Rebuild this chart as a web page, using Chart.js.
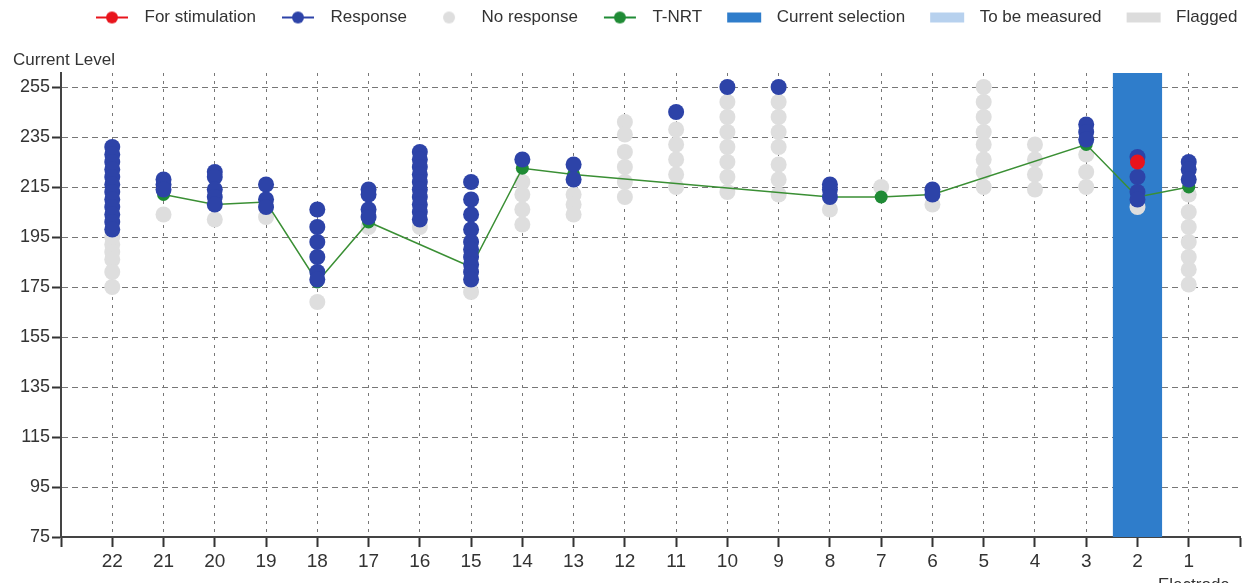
<!DOCTYPE html>
<html>
<head>
<meta charset="utf-8">
<script src="https://cdn.jsdelivr.net/npm/chart.js@4.4.1/dist/chart.umd.min.js"></script>
<style>
  html, body { margin: 0; padding: 0; background: #fff; overflow: hidden; }
  #wrap { width: 1255px; height: 583px; }
</style>
</head>
<body>
<div id="wrap"><canvas id="nrtChart"></canvas></div>
<script>
// Electrodes, left to right
const electrodes = [22, 21, 20, 19, 18, 17, 16, 15, 14, 13, 12, 11, 10, 9, 8, 7, 6, 5, 4, 3, 2, 1];

const responseLevels = [
    [231, 228, 225, 222, 219, 216, 213, 210, 207, 204, 201, 198], // 22
    [218, 216, 214],                                              // 21
    [221, 219, 214, 211, 208],                                    // 20
    [216, 210, 207],                                              // 19
    [206, 199, 193, 187, 181, 178],                               // 18
    [214, 212, 206, 203],                                         // 17
    [229, 226, 223, 220, 217, 214, 211, 208, 205, 202],           // 16
    [217, 210, 204, 198, 193, 190, 187, 184, 181, 178],           // 15
    [226],                                                        // 14
    [224, 218],                                                   // 13
    [],                                                           // 12
    [245],                                                        // 11
    [255],                                                        // 10
    [255],                                                        // 9
    [216, 214, 211],                                              // 8
    [],                                                           // 7
    [214, 212],                                                   // 6
    [],                                                           // 5
    [],                                                           // 4
    [240, 237, 234],                                              // 3
    [227, 219, 213, 210],                                         // 2
    [225, 222, 218]                                               // 1
];

const noResponseLevels = [
    [195, 192, 189, 186, 181, 175],
    [204],
    [202],
    [203],
    [169],
    [199],
    [199],
    [173],
    [217, 212, 206, 200],
    [212, 208, 204],
    [241, 236, 229, 223, 217, 211],
    [238, 232, 226, 220, 215],
    [249, 243, 237, 231, 225, 219, 213],
    [249, 243, 237, 231, 224, 218, 212],
    [206],
    [215],
    [208],
    [255, 249, 243, 237, 232, 226, 221, 215],
    [232, 226, 220, 214],
    [228, 221, 215],
    [207],
    [212, 205, 199, 193, 187, 182, 176]
];

const stimulationLevels = [
    [], [], [], [], [], [], [], [], [], [], [], [], [], [], [], [], [], [], [], [], [225], []
];

const tNrtLevels = [null, 212, 208, 209, 177, 201, null, 183, 222.5, 220, null, null, null, null, 211, 211, 212, null, null, 232, 211, 215];

const selectedElectrode = 2;
const yTicks = [75, 95, 115, 135, 155, 175, 195, 215, 235, 255];
const yMin = 75;
const yMax = 260.6;

const toPoints = levels => electrodes.flatMap((e, i) => levels[i].map(v => ({ x: e, y: v })));

// legend icons
function markerIcon(color, withLine) {
    const c = document.createElement('canvas');
    c.width = 40; c.height = 14;
    const g = c.getContext('2d');
    if (withLine) {
        g.strokeStyle = color; g.lineWidth = 2;
        g.beginPath(); g.moveTo(4, 7); g.lineTo(36, 7); g.stroke();
    }
    g.fillStyle = color;
    g.beginPath(); g.arc(20, 7, 6, 0, Math.PI * 2); g.fill();
    return c;
}
function boxIcon(color) {
    const c = document.createElement('canvas');
    c.width = 40; c.height = 14;
    const g = c.getContext('2d');
    g.fillStyle = color;
    g.fillRect(3, 2, 34, 10);
    return c;
}

const RED = '#E8141C', BLUE = '#2D43A8', GRAY = '#DEDEDE', GREEN = '#1F8B35', GREEN_LINE = '#3A8F34';
const SEL = '#2F7DCB', TO_MEASURE = '#B7D1EE', FLAGGED = '#DCDCDC';

const legendIcons = [
    markerIcon(RED, true), markerIcon(BLUE, true), markerIcon(GRAY, false), markerIcon(GREEN, true),
    boxIcon(SEL), boxIcon(TO_MEASURE), boxIcon(FLAGGED)
];

Chart.defaults.font.family = '"Liberation Sans", Arial, sans-serif';
Chart.defaults.color = '#333';

const layoutTweaks = {
    id: 'layoutTweaks',
    beforeUpdate(chart) {
        const lg = chart.legend;
        if (lg && !lg._patched) {
            const fit = lg.fit;
            lg.fit = function () { fit.call(this); this.height = 73; };
            lg._patched = true;
        }
    },
    afterLayout(chart) {
        const lg = chart.legend;
        if (lg) { lg.left += 70; lg.right += 70; lg.top -= 9; lg.bottom -= 9; }
    },
    afterDraw(chart) {
        const ctx = chart.ctx;
        ctx.save();
        ctx.fillStyle = '#333';
        ctx.font = '17px "Liberation Sans", Arial, sans-serif';
        ctx.textBaseline = 'middle';
        ctx.textAlign = 'left';
        ctx.fillText('Current Level', 13, 60);
        ctx.textBaseline = 'top';
        ctx.fillText('Electrode', 1158, 577);
        ctx.restore();
    }
};

new Chart(document.getElementById('nrtChart'), {
    type: 'scatter',
    data: {
        datasets: [
            {
                label: 'For stimulation',
                data: toPoints(stimulationLevels),
                backgroundColor: RED, pointRadius: 7.5, pointBorderWidth: 0, order: 0
            },
            {
                label: 'Response',
                data: toPoints(responseLevels),
                backgroundColor: BLUE, pointRadius: 8, pointBorderWidth: 0, order: 1
            },
            {
                label: 'No response',
                data: toPoints(noResponseLevels),
                backgroundColor: GRAY, pointRadius: 8, pointBorderWidth: 0, order: 3
            },
            {
                label: 'T-NRT',
                data: electrodes.map((e, i) => ({ x: e, y: tNrtLevels[i] })).filter(p => p.y !== null),
                showLine: true, borderColor: GREEN_LINE, borderWidth: 1.5, tension: 0,
                backgroundColor: GREEN, pointRadius: 6.5, pointBorderWidth: 0, order: 2
            },
            {
                type: 'bar',
                label: 'Current selection',
                data: [{ x: selectedElectrode, y: yMax }],
                backgroundColor: SEL, barPercentage: 0.96, categoryPercentage: 1, order: 4
            },
            { label: 'To be measured', data: [], backgroundColor: TO_MEASURE },
            { label: 'Flagged', data: [], backgroundColor: FLAGGED }
        ]
    },
    options: {
        responsive: true,
        maintainAspectRatio: false,
        animation: false,
        events: [],
        layout: { padding: { left: 0, right: 15, top: 0, bottom: 0 } },
        plugins: {
            tooltip: { enabled: false },
            legend: {
                position: 'top',
                align: 'start',
                labels: {
                    usePointStyle: true,
                    pointStyleWidth: 48,
                    padding: 18,
                    color: '#333',
                    font: { size: 17 },
                    generateLabels: chart => chart.data.datasets.map((ds, i) => ({
                        text: ds.label,
                        pointStyle: legendIcons[i],
                        fillStyle: ds.backgroundColor,
                        strokeStyle: ds.backgroundColor,
                        lineWidth: 0,
                        hidden: false,
                        datasetIndex: i,
                        fontColor: '#333'
                    }))
                }
            }
        },
        scales: {
            x: {
                type: 'linear',
                reverse: true,
                min: 0,
                max: 23,
                offset: false,
                afterBuildTicks: axis => { axis.ticks = Array.from({ length: 24 }, (_, i) => ({ value: i })); },
                afterFit: scale => { scale.height = 46; },
                ticks: {
                    autoSkip: false,
                    maxRotation: 0,
                    padding: 3,
                    font: { size: 19 },
                    color: '#333',
                    callback: v => (v >= 1 && v <= 22) ? String(v) : ''
                },
                grid: {
                    offset: false,
                    color: c => (c.tick && c.tick.value === 0) ? 'rgba(0,0,0,0)' : '#777',
                    tickColor: '#333',
                    tickWidth: 2,
                    tickLength: 10
                },
                border: { display: true, color: '#444', width: 2, dash: [3, 5] }
            },
            y: {
                type: 'linear',
                min: yMin,
                max: yMax,
                beginAtZero: false,
                afterBuildTicks: axis => { axis.ticks = yTicks.map(v => ({ value: v })); },
                afterFit: scale => { scale.width = 61; },
                ticks: {
                    padding: 2,
                    font: { size: 18 },
                    color: '#333'
                },
                grid: {
                    color: c => (c.tick && c.tick.value === yMin) ? 'rgba(0,0,0,0)' : '#777',
                    tickColor: '#333',
                    tickWidth: 2,
                    tickLength: 9
                },
                border: { display: true, color: '#444', width: 2, dash: [6, 4] }
            }
        }
    },
    plugins: [layoutTweaks]
});
</script>
</body>
</html>
